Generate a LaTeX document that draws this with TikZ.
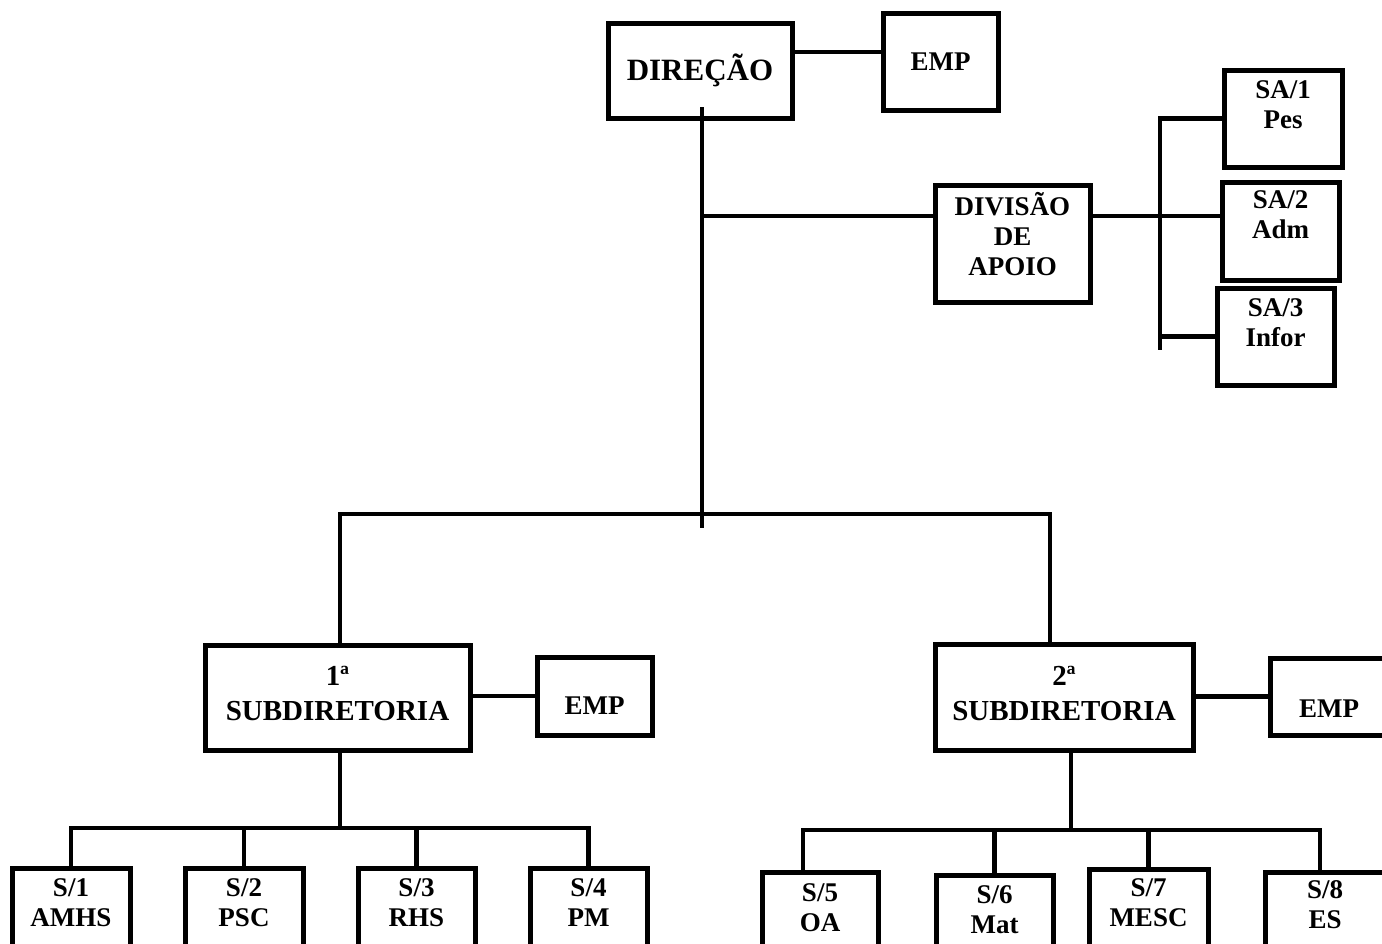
\documentclass[tikz,border=0pt]{standalone}
\usepackage{fontspec}
\setmainfont{Liberation Serif}
\usepackage{tikz}

\begin{document}
\begin{tikzpicture}[x=1pt,y=-1pt,line width=4.5pt,
		orgbox/.style={draw,line width=5pt,align=center,inner sep=0pt,font=\fontsize{27}{30}\selectfont\bfseries},
		txt/.style={text height=#1,text depth=2pt}]
		\useasboundingbox (0,0) rectangle (1382,943);

		% direcao e divisao de apoio
		\node[orgbox,minimum width=184,minimum height=95,font=\fontsize{31}{36}\selectfont\bfseries] (dir) at (700,70.5) {DIREÇÃO};
		\node[orgbox,minimum width=115,minimum height=97] (emp0) at (940.5,61.5) {EMP};
		\node[orgbox,minimum width=155,minimum height=117,txt=65pt] (div) at (1012.5,243.5) {DIVISÃO\\DE\\APOIO};
		\node[orgbox,minimum width=118,minimum height=97,txt=21pt] (sa1) at (1283,118.5) {SA/1\\Pes};
		\node[orgbox,minimum width=117,minimum height=98,txt=16pt] (sa2) at (1280.5,231) {SA/2\\Adm};
		\node[orgbox,minimum width=117,minimum height=97,txt=21pt] (sa3) at (1275.5,336.5) {SA/3\\Infor};

		% subdiretorias
		\node[orgbox,minimum width=265,minimum height=105,txt=47pt,font=\fontsize{29}{35}\selectfont\bfseries] (sub1) at (337.5,697.5) {1ª\\SUBDIRETORIA};
		\node[orgbox,minimum width=115,minimum height=78,txt=38pt] (emp1) at (594.5,696) {EMP};
		\node[orgbox,minimum width=258,minimum height=106,txt=48pt,font=\fontsize{29}{35}\selectfont\bfseries] (sub2) at (1064,697) {2ª\\SUBDIRETORIA};
		\node[orgbox,minimum width=118,minimum height=77,txt=44pt] (emp2) at (1329,696.5) {EMP};

		% secoes
		\node[orgbox,anchor=north,minimum width=118,minimum height=100,txt=18pt] (s1) at (71,866) {S/1\\AMHS};
		\node[orgbox,anchor=north,minimum width=118,minimum height=100,txt=18pt] (s2) at (244,866) {S/2\\PSC};
		\node[orgbox,anchor=north,minimum width=117,minimum height=100,txt=18pt] (s3) at (416.5,866) {S/3\\RHS};
		\node[orgbox,anchor=north,minimum width=117,minimum height=100,txt=18pt] (s4) at (588.5,866) {S/4\\PM};
		\node[orgbox,anchor=north,minimum width=116,minimum height=100,txt=20pt] (s5) at (820,870) {S/5\\OA};
		\node[orgbox,anchor=north,minimum width=117,minimum height=100,txt=18pt] (s6) at (994.5,873) {S/6\\Mat};
		\node[orgbox,anchor=north,minimum width=119,minimum height=100,txt=16pt] (s7) at (1148.5,867) {S/7\\MESC};
		\node[orgbox,anchor=north,minimum width=120,minimum height=100,txt=14pt] (s8) at (1325,870) {S/8\\ES};

		\coordinate (t0) at (702,107);
		\coordinate (t1) at (702,528);
		\coordinate (dj) at (702,216);
		\coordinate (ej) at (0,52);
		\coordinate (brk) at (1160,350);
		\coordinate (b1) at (340,514);
		\coordinate (b2) at (1050,514);
		\coordinate (c1) at (340,828);
		\coordinate (c2) at (1071,830);
		\coordinate (c5) at (803,830);
		\coordinate (c8) at (1320,830);

		\draw (dir.east |- ej) -- (emp0.west |- ej);
		\draw (t0) -- (t1);
		\draw (dj) -- (div.west |- dj);
		\draw (div.east |- dj) -- (sa2.west |- dj);
		\draw (sa1.west) -| (brk);
		\draw (brk |- sa3.west) -- (sa3.west);
		\draw (sub1.north -| b1) -- (b1) -- (b2) -- (sub2.north -| b2);

		\draw (sub1.east |- emp1.west) -- (emp1.west);
		\draw (sub2.east |- emp2.west) -- (emp2.west);

		\draw (sub1.south -| c1) -- (c1);
		\draw (s1.north) |- (c1) -| (s4.north);
		\foreach \s in {s2,s3} \draw (\s.north) -- (\s.north |- c1);
		\draw (sub2.south -| c2) -- (c2);
		\draw (s5.north -| c5) -- (c5) -- (c8) -- (s8.north -| c8);
		\foreach \s in {s6,s7} \draw (\s.north) -- (\s.north |- c2);
\end{tikzpicture}
\end{document}
